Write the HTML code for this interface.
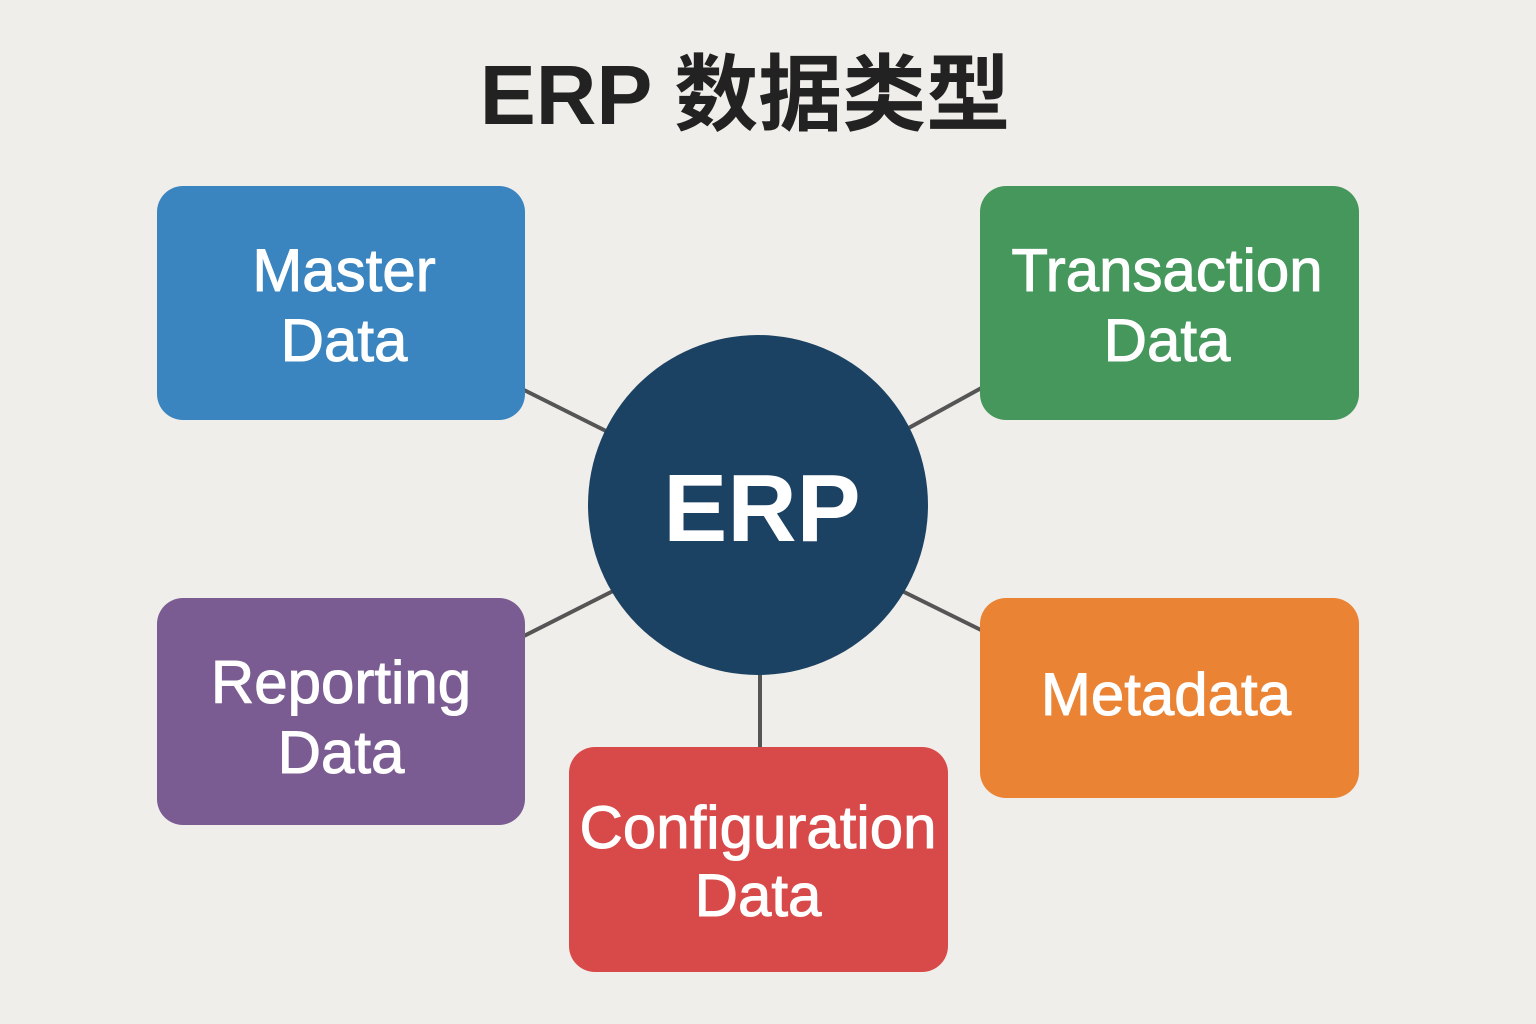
<!DOCTYPE html>
<html><head><meta charset="utf-8"><style>
html,body{margin:0;padding:0;background:#f0eeea;}
svg{display:block}
</style></head><body>
<svg width="1536" height="1024" viewBox="0 0 1536 1024" xmlns="http://www.w3.org/2000/svg">
<rect width="1536" height="1024" fill="#f0eeea"/>
<text x="745" y="124" text-anchor="middle" font-family="'Liberation Sans','Noto Sans CJK SC',sans-serif" font-weight="bold" font-size="84" fill="#222">ERP 数据类型</text>
<g stroke="#555" stroke-width="4">
<line x1="520" y1="388" x2="610" y2="433"/>
<line x1="905" y1="430" x2="985" y2="386"/>
<line x1="520" y1="638" x2="615" y2="590"/>
<line x1="900" y1="590" x2="985" y2="632"/>
<line x1="760" y1="670" x2="760" y2="750"/>
</g>
<rect x="157" y="186" width="368" height="234" rx="26" fill="#3a85bf"/>
<rect x="980" y="186" width="379" height="234" rx="26" fill="#46975c"/>
<rect x="157" y="598" width="368" height="227" rx="26" fill="#7b5c92"/>
<rect x="569" y="747" width="379" height="225" rx="26" fill="#d84a49"/>
<rect x="980" y="598" width="379" height="200" rx="26" fill="#ea8334"/>
<circle cx="758" cy="505" r="170" fill="#1c4263"/>
<g font-family="'Liberation Sans',sans-serif" fill="#fff" stroke="#fff" stroke-width="1" text-anchor="middle" font-size="60">
<text x="344" y="291">Master</text><text x="344" y="361">Data</text>
<text x="1167" y="291">Transaction</text><text x="1167" y="361">Data</text>
<text x="341" y="703">Reporting</text><text x="341" y="773">Data</text>
<text x="758" y="848">Configuration</text><text x="758" y="916">Data</text>
<text x="1166" y="715">Metadata</text>
</g>
<text x="762" y="541" text-anchor="middle" font-family="'Liberation Sans',sans-serif" font-size="96" font-weight="bold" fill="#fff">ERP</text>
</svg>
</body></html>
